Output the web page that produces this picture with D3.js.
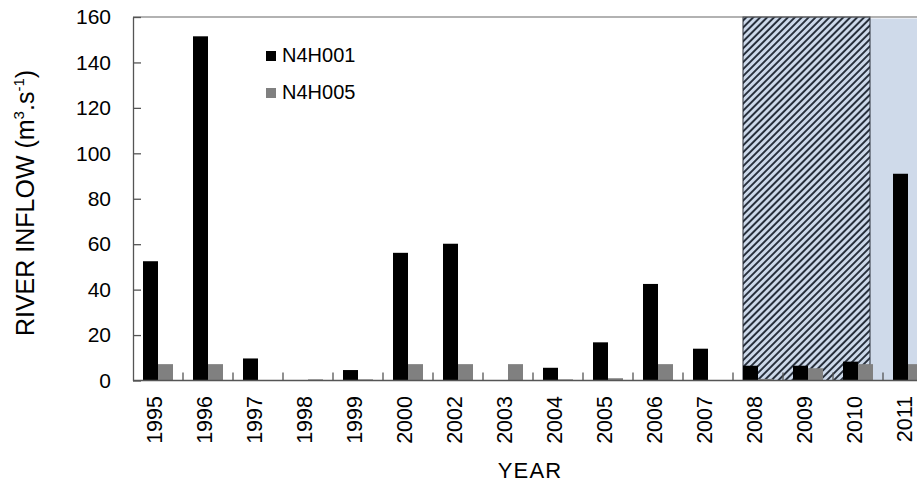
<!DOCTYPE html>
<html>
<head>
<meta charset="utf-8">
<script src="https://cdn.jsdelivr.net/npm/d3@7/dist/d3.min.js"></script>
<style>
  html, body { margin: 0; padding: 0; background: #fff; }
  svg { display: block; font-family: "Liberation Sans", Arial, sans-serif; }
</style>
</head>
<body>
<svg id="chart" width="917" height="484"></svg>
<script>
// Annual river inflow at two gauging stations
const years = ["1995","1996","1997","1998","1999","2000","2002","2003","2004","2005","2006","2007","2008","2009","2010","2011"];
const n4h001 = [52.5, 151.5, 9.7, 0, 4.6, 56.2, 60.2, 0, 5.6, 16.8, 42.5, 14.0, 6.5, 6.5, 8.3, 91.0];
const n4h005 = [7.2, 7.2, 0, 0.5, 0.5, 7.2, 7.2, 7.2, 0.5, 1.0, 7.2, 0, 0.7, 5.4, 7.2, 7.2];
const seriesNames = ["N4H001", "N4H005"];
const seriesColors = ["#000000", "#808080"];
const yTicks = [0, 20, 40, 60, 80, 100, 120, 140, 160];
// Shaded periods: hatched drought years, then the light recovery period
const hatchedYears = ["2008", "2010"];
const lightFromYear = "2010";

const svg = d3.select("#chart");
const plotLeft = 133, plotTop = 17, plotBottom = 380.5;
const bandW = 50;
const plotRight = plotLeft + bandW * years.length;

const x0 = d3.scaleBand().domain(years).range([plotLeft, plotRight]).padding(0);
const x1 = d3.scaleBand().domain(seriesNames).range([0.2 * x0.bandwidth(), 0.8 * x0.bandwidth()]).padding(0);
const y = d3.scaleLinear().domain([0, 160]).range([plotBottom, plotTop]);

const defs = svg.append("defs");
const pat = defs.append("pattern")
  .attr("id", "hatch")
  .attr("patternUnits", "userSpaceOnUse")
  .attr("width", 4.9).attr("height", 4.9)
  .attr("patternTransform", "rotate(45)");
pat.append("rect").attr("width", 4.9).attr("height", 4.9).attr("fill", "#cdd9ea");
pat.append("line").attr("x1", 1).attr("x2", 1).attr("y1", 0).attr("y2", 4.9)
  .attr("stroke", "#18202c").attr("stroke-width", 1.8);

// Background shading
const hatchX0 = x0(hatchedYears[0]) + 0.2 * x0.bandwidth();
const hatchX1 = x0(hatchedYears[1]) + 0.74 * x0.bandwidth();
const lightX0 = x0(lightFromYear) + 0.74 * x0.bandwidth();
svg.append("rect")
  .attr("x", lightX0).attr("y", y(160) + 1.5)
  .attr("width", plotRight - lightX0)
  .attr("height", y(0) - y(160) - 1.5)
  .attr("fill", "#cfdaea");
svg.append("rect")
  .attr("x", hatchX0).attr("y", y(160))
  .attr("width", hatchX1 - hatchX0)
  .attr("height", y(0) - y(160))
  .attr("fill", "url(#hatch)")
  .attr("stroke", "#2a2f38").attr("stroke-width", 1);

// Plot frame (top edge)
svg.append("line")
  .attr("x1", plotLeft).attr("x2", 917)
  .attr("y1", y(160)).attr("y2", y(160))
  .attr("stroke", "#666").attr("stroke-width", 1.2);

// Bars
const rows = years.map((yr, i) => ({ year: yr, values: [n4h001[i], n4h005[i]] }));
const groups = svg.append("g").selectAll("g").data(rows).join("g")
  .attr("transform", d => `translate(${x0(d.year)},0)`);
groups.selectAll("rect")
  .data(d => d.values.map((v, k) => ({ key: seriesNames[k], v, color: seriesColors[k] })))
  .join("rect")
  .filter(d => d.v > 0)
  .attr("x", d => x1(d.key))
  .attr("y", d => y(d.v))
  .attr("width", x1.bandwidth())
  .attr("height", d => y(0) - y(d.v))
  .attr("fill", d => d.color);

// Y axis with inward ticks
const yAxis = svg.append("g")
  .attr("transform", `translate(${plotLeft},0)`)
  .call(d3.axisLeft(y).tickValues(yTicks).tickSizeInner(-8).tickSizeOuter(0).tickPadding(22));
yAxis.select(".domain").attr("stroke", "#555").attr("stroke-width", 1.3);
yAxis.selectAll(".tick line").attr("stroke", "#555").attr("stroke-width", 1.3);
yAxis.selectAll(".tick text")
  .attr("font-size", 21).attr("fill", "#000")
  .attr("font-family", "Liberation Sans, Arial, sans-serif");

// X axis: baseline, upward ticks at category boundaries, rotated year labels
const xAxisG = svg.append("g");
xAxisG.append("line")
  .attr("x1", plotLeft).attr("x2", 917)
  .attr("y1", y(0)).attr("y2", y(0))
  .attr("stroke", "#555").attr("stroke-width", 1.3);
xAxisG.selectAll("line.tick").data(years.slice(1)).join("line")
  .attr("class", "tick")
  .attr("x1", d => x0(d)).attr("x2", d => x0(d))
  .attr("y1", y(0)).attr("y2", y(0) - 8)
  .attr("stroke", "#555").attr("stroke-width", 1.3);
xAxisG.selectAll("text").data(years).join("text")
  .attr("transform", d => `translate(${x0(d) + x0.bandwidth() / 2 - 3},396) rotate(-90)`)
  .attr("text-anchor", "end")
  .attr("dy", "0.33em")
  .attr("font-size", 21.5)
  .text(d => d);

// Axis titles
svg.append("text")
  .attr("x", 530).attr("y", 478)
  .attr("text-anchor", "middle")
  .attr("font-size", 22)
  .attr("letter-spacing", 1.2)
  .text("YEAR");

const yt = svg.append("text")
  .attr("transform", "translate(34,203) rotate(-90)")
  .attr("text-anchor", "middle")
  .attr("font-size", 25);
yt.append("tspan").text("RIVER INFLOW (m");
yt.append("tspan").attr("font-size", 15).attr("dy", -10).text("3");
yt.append("tspan").attr("dy", 10).text(".s");
yt.append("tspan").attr("font-size", 15).attr("dy", -10).text("-1");
yt.append("tspan").attr("dy", 10).text(")");

// Legend
const legend = svg.append("g").selectAll("g").data(seriesNames).join("g")
  .attr("transform", (d, i) => `translate(266,${51 + i * 37})`);
legend.append("rect")
  .attr("width", 10).attr("height", 10)
  .attr("fill", (d, i) => seriesColors[i]);
legend.append("text")
  .attr("x", 16).attr("y", 11)
  .attr("font-size", 20)
  .text(d => d);
</script>
</body>
</html>
